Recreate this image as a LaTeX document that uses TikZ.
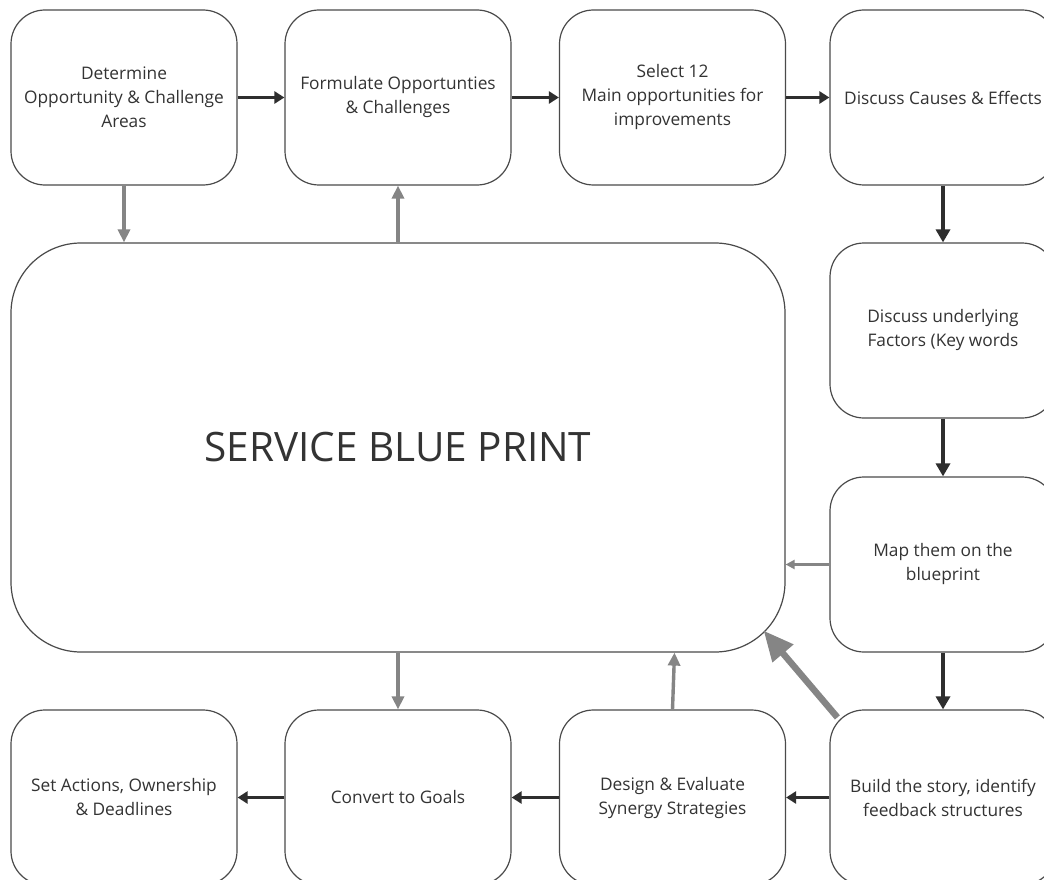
\documentclass[tikz,border=0pt]{standalone}
\usepackage{fontspec}
\setmainfont{Open Sans}
\usetikzlibrary{arrows.meta,calc}
\definecolor{ink}{HTML}{333333}
\definecolor{edge}{HTML}{4A4A4A}
\definecolor{darkarrow}{HTML}{2E2E2E}
\definecolor{greyarrow}{HTML}{858585}
\begin{document}
\begin{tikzpicture}[x=1pt,y=-1pt,
  stepbox/.style={draw=edge, line width=1.2pt, rounded corners=34pt,
    minimum width=226pt, minimum height=175pt, align=center, text=ink,
    font=\fontsize{17.3}{24}\selectfont, inner sep=0pt},
  bigbox/.style={draw=edge, line width=1.2pt, rounded corners=70pt,
    minimum width=774pt, minimum height=409pt, text=ink,
    font=\fontsize{40.5}{44}\selectfont, inner sep=0pt},
  hflow/.style={draw=darkarrow, line width=3.2pt, -{Triangle[length=10pt,width=12pt]}},
  vflow/.style={draw=darkarrow, line width=3.4pt, -{Triangle[length=13pt,width=14pt]}},
  feed/.style={draw=greyarrow, line width=3.4pt, -{Triangle[length=13pt,width=12pt]}},
  thinfeed/.style={draw=greyarrow, line width=2.2pt, -{Triangle[length=9pt,width=9pt]}},
  widefeed/.style={draw=greyarrow, line width=6.5pt, -{Triangle[length=30pt,width=26pt]}}
]
\clip (0,0) rectangle (1044,880);
\fill[white] (0,0) rectangle (1044,880);

% top row
\node[stepbox] (b1) at (124,97.5) {Determine\\Opportunity \& Challenge\\Areas};
\node[stepbox] (b2) at (398,97.5) {Formulate Opportunties\\\& Challenges};
\node[stepbox] (b3) at (672.5,97.5) {Select 12\\Main opportunities for\\improvements};
\node[stepbox] (b4) at (943,97.5) {Discuss Causes \& Effects};

% right column
\node[stepbox] (b5) at (943,330.5) {Discuss underlying\\Factors (Key words};
\node[stepbox] (b6) at (943,564.5) {Map them on the\\blueprint};
\node[stepbox] (b7) at (943,797.5) {Build the story, identify\\feedback structures};

% bottom row
\node[stepbox] (b8) at (672.5,797.5) {Design \& Evaluate\\Synergy Strategies};
\node[stepbox] (b9) at (398,797.5) {Convert to Goals};
\node[stepbox] (b10) at (124,797.5) {Set Actions, Ownership\\\& Deadlines};

% central blueprint
\node[bigbox] (big) at (398,447.5) {SERVICE BLUE PRINT};

% main sequence
\draw[hflow] (b1.east) -- (b2.west);
\draw[hflow] (b2.east) -- (b3.west);
\draw[hflow] (b3.east) -- (b4.west);
\draw[vflow] (b4.south) -- (b5.north);
\draw[vflow] (b5.south) -- (b6.north);
\draw[vflow] (b6.south) -- (b7.north);
\draw[hflow] (b7.west) -- (b8.east);
\draw[hflow] (b8.west) -- (b9.east);
\draw[hflow] (b9.west) -- (b10.east);

% links with the blueprint
\draw[feed] (b1.south) -- (b1.south |- big.north);
\draw[feed] (big.north -| b2.south) -- (b2.south);
\draw[thinfeed] (b6.west) -- (b6.west -| big.east);
\draw[feed] (big.south -| b9.north) -- (b9.north);
\draw[feed] (b8.north) -- ([xshift=2pt]b8.north |- big.south);
\draw[widefeed] ($(b7.north west)+(8,8)$) -- ($(big.south east)+(-22,-22)$);
\end{tikzpicture}
\end{document}
